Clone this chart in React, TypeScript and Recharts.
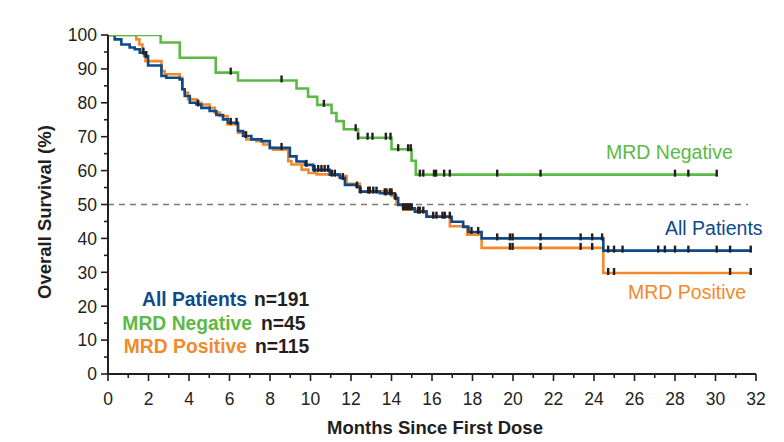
import React from "react";
import { ComposedChart, Line, Scatter, XAxis, YAxis, ReferenceLine } from "recharts";

const FONT = '"Liberation Sans", Arial, Helvetica, sans-serif';
const INK = "#231f20";
const BLUE = "#0d4a8a";
const GREEN = "#5cb946";
const ORANGE = "#f28a2c";

const monthTicks = Array.from({ length: 33 }, (_, i) => i);
const survivalTicks = [0, 5, 10, 15, 20, 25, 30, 35, 40, 45, 50, 55, 60, 65, 70, 75, 80, 85, 90, 95, 100];

// All Patients (n=191)
const allTimes = [0, 0.33, 0.66, 1.07, 1.32, 1.57, 1.81, 1.98, 2.64, 2.88, 3.54, 3.67, 3.79, 4.04, 4.37, 4.61, 5.02, 5.35, 5.68, 5.93, 6.42, 6.67, 7.08, 7.58, 7.99, 8.98, 9.31, 9.72, 10.13, 10.95, 11.45, 11.7, 12.27, 12.44, 13.42, 14.16, 14.33, 14.57, 15.15, 15.73, 16.97, 17.54, 17.8, 18.45, 24.46];
const allSurv = [100, 98.7, 97.2, 96.3, 95.8, 94.8, 93.8, 91.0, 87.9, 87.4, 86.9, 84.0, 82.0, 80.0, 79.5, 78.5, 77.6, 76.4, 75.1, 74.1, 71.7, 70.2, 69.2, 68.7, 66.7, 64.2, 62.7, 61.7, 60.2, 58.8, 57.8, 55.8, 55.3, 53.8, 53.3, 51.9, 49.9, 48.9, 47.9, 46.4, 44.9, 43.4, 41.9, 40.0, 36.4];
const allEnd = 31.74;
const allCensor = [1.89, 4.45, 6.06, 6.35, 6.8, 8.57, 9.8, 10.2, 10.38, 10.54, 10.7, 10.87, 11.05, 11.2, 11.6, 12.3, 12.47, 12.85, 12.93, 13.1, 13.26, 13.67, 13.75, 13.92, 14.0, 14.2, 14.58, 14.66, 14.75, 14.83, 14.91, 15.0, 15.32, 15.4, 15.57, 16.06, 16.22, 16.52, 16.63, 16.88, 17.95, 18.28, 19.22, 19.85, 19.98, 21.36, 23.34, 23.91, 24.4, 24.7, 24.99, 25.41, 27.17, 27.5, 28.0, 28.66, 30.06, 30.72, 31.74];

// MRD Negative (n=45)
const negTimes = [0, 2.6, 3.54, 5.32, 6.42, 9.31, 9.88, 10.33, 11.04, 11.28, 11.64, 12.35, 14.0, 14.99, 15.2];
const negSurv = [100, 97.8, 93.3, 88.9, 86.6, 84.2, 81.8, 79.4, 77.0, 74.6, 72.2, 69.7, 66.3, 62.9, 58.8];
const negEnd = 30.06;
const negCensor = [6.06, 8.57, 10.66, 12.23, 12.35, 12.82, 13.06, 13.72, 13.95, 14.33, 14.82, 14.95, 15.4, 15.57, 16.1, 16.2, 16.6, 16.88, 19.22, 21.36, 28.0, 28.66, 30.06];

// MRD Positive (n=115)
const posTimes = [0, 1.4, 1.55, 1.7, 1.85, 2.64, 2.8, 3.54, 3.67, 3.79, 3.95, 4.37, 4.6, 5.02, 5.27, 5.52, 5.9, 6.42, 6.83, 7.33, 7.66, 7.99, 8.15, 8.9, 9.06, 9.56, 9.9, 10.3, 11.36, 11.78, 12.43, 14.0, 14.25, 14.58, 15.24, 15.73, 16.88, 17.74, 18.45, 24.46];
const posSurv = [100, 98.7, 97.2, 94.8, 92.3, 89.4, 88.4, 87.4, 84.0, 83.0, 81.0, 80.0, 79.5, 78.5, 77.1, 76.1, 73.6, 71.2, 69.2, 68.7, 67.7, 66.7, 66.2, 62.8, 61.8, 60.3, 59.3, 58.9, 58.4, 56.1, 53.9, 52.5, 50.0, 48.5, 48.0, 46.6, 43.6, 41.1, 37.2, 29.8];
const posEnd = 31.74;
const posCensor = [1.75, 19.85, 19.98, 21.36, 23.34, 23.91, 24.7, 24.99, 30.72, 31.74];

type Pt = { x: number; y: number };

const steps = (t: number[], s: number[], end: number): Pt[] => [
  ...t.map((x, i) => ({ x, y: s[i] })),
  { x: end, y: s[s.length - 1] },
];

const survAt = (t: number[], s: number[], x: number) => {
  let v = s[0];
  t.forEach((ti, i) => {
    if (ti <= x) v = s[i];
  });
  return v;
};

const marks = (c: number[], t: number[], s: number[]): Pt[] => c.map((x) => ({ x, y: survAt(t, s, x) }));

const allData = steps(allTimes, allSurv, allEnd);
const negData = steps(negTimes, negSurv, negEnd);
const posData = steps(posTimes, posSurv, posEnd);
const censorData = [
  ...marks(posCensor, posTimes, posSurv),
  ...marks(allCensor, allTimes, allSurv),
  ...marks(negCensor, negTimes, negSurv),
];

const XTick = (props: any) => {
  const { x, y, payload } = props;
  const major = payload.value % 2 === 0;
  return (
    <g>
      <line x1={x} x2={x} y1={y} y2={y + (major ? 7 : 4)} stroke={INK} strokeWidth={1.6} />
      {major && (
        <text x={x} y={y + 31} textAnchor="middle" fontSize={17.5} fill={INK} fontFamily={FONT}>
          {payload.value}
        </text>
      )}
    </g>
  );
};

const YTick = (props: any) => {
  const { x, y, payload } = props;
  const major = payload.value % 10 === 0;
  return (
    <g>
      <line x1={x} x2={x - (major ? 7 : 4)} y1={y} y2={y} stroke={INK} strokeWidth={1.6} />
      {major && (
        <text x={x - 11} y={y} dy="0.36em" textAnchor="end" fontSize={17.5} fill={INK} fontFamily={FONT}>
          {payload.value}
        </text>
      )}
    </g>
  );
};

const CensorMark = (props: any) => {
  const { cx, cy } = props;
  return <rect x={cx - 1.2} y={cy - 5} width={2.4} height={7} fill={INK} />;
};

export default function App() {
  return (
    <div style={{ position: "absolute", left: 0, top: 0, width: 784, height: 442, background: "#fff" }}>
      <ComposedChart width={784} height={442} margin={{ top: 35, right: 28, bottom: 38, left: 48 }}>
        <XAxis
          type="number"
          dataKey="x"
          domain={[0, 32]}
          ticks={monthTicks}
          interval={0}
          tick={<XTick />}
          tickLine={false}
          tickSize={0}
          tickMargin={0}
          height={30}
          axisLine={{ stroke: INK, strokeWidth: 2 }}
          allowDataOverflow
        />
        <YAxis
          type="number"
          dataKey="y"
          domain={[0, 100]}
          ticks={survivalTicks}
          interval={0}
          tick={<YTick />}
          tickLine={false}
          tickSize={0}
          tickMargin={0}
          width={60}
          axisLine={{ stroke: INK, strokeWidth: 2 }}
          allowDataOverflow
        />
        <ReferenceLine
          segment={[
            { x: 0, y: 50 },
            { x: 31.6, y: 50 },
          ]}
          stroke="#7a7a7a"
          strokeWidth={1.5}
          strokeDasharray="6 5"
        />
        <Line data={posData} dataKey="y" type="stepAfter" stroke={ORANGE} strokeWidth={2.6} dot={false} isAnimationActive={false} />
        <Line data={allData} dataKey="y" type="stepAfter" stroke={BLUE} strokeWidth={2.6} dot={false} isAnimationActive={false} />
        <Line data={negData} dataKey="y" type="stepAfter" stroke={GREEN} strokeWidth={2.6} dot={false} isAnimationActive={false} />
        <Scatter data={censorData} shape={<CensorMark />} isAnimationActive={false} />
      </ComposedChart>
      <svg
        width={784}
        height={442}
        style={{ position: "absolute", left: 0, top: 0, pointerEvents: "none" }}
        fontFamily={FONT}
      >
        <text transform="translate(44,212) rotate(-90)" dy="0.36em" textAnchor="middle" fontSize={18.5} fontWeight="bold" fill={INK}>
          Overall Survival (%)
        </text>
        <text x={435} y={434} textAnchor="middle" fontSize={18.5} fontWeight="bold" fill={INK}>
          Months Since First Dose
        </text>

        <text x={247} y={306} textAnchor="end" fontSize={19.3} fontWeight="bold" fill={BLUE}>All Patients</text>
        <text x={254} y={306} fontSize={19.3} fontWeight="bold" fill={INK}>n=191</text>
        <text x={252} y={329.5} textAnchor="end" fontSize={19.3} fontWeight="bold" fill={GREEN}>MRD Negative</text>
        <text x={261} y={329.5} fontSize={19.3} fontWeight="bold" fill={INK}>n=45</text>
        <text x={247} y={352.5} textAnchor="end" fontSize={19.3} fontWeight="bold" fill={ORANGE}>MRD Positive</text>
        <text x={255} y={352.5} fontSize={19.3} fontWeight="bold" fill={INK}>n=115</text>

        <text x={606} y={159} fontSize={19.5} fill={GREEN}>MRD Negative</text>
        <text x={665} y={235} fontSize={19.5} fill={BLUE}>All Patients</text>
        <text x={628} y={299} fontSize={19.5} fill={ORANGE}>MRD Positive</text>
      </svg>
    </div>
  );
}
